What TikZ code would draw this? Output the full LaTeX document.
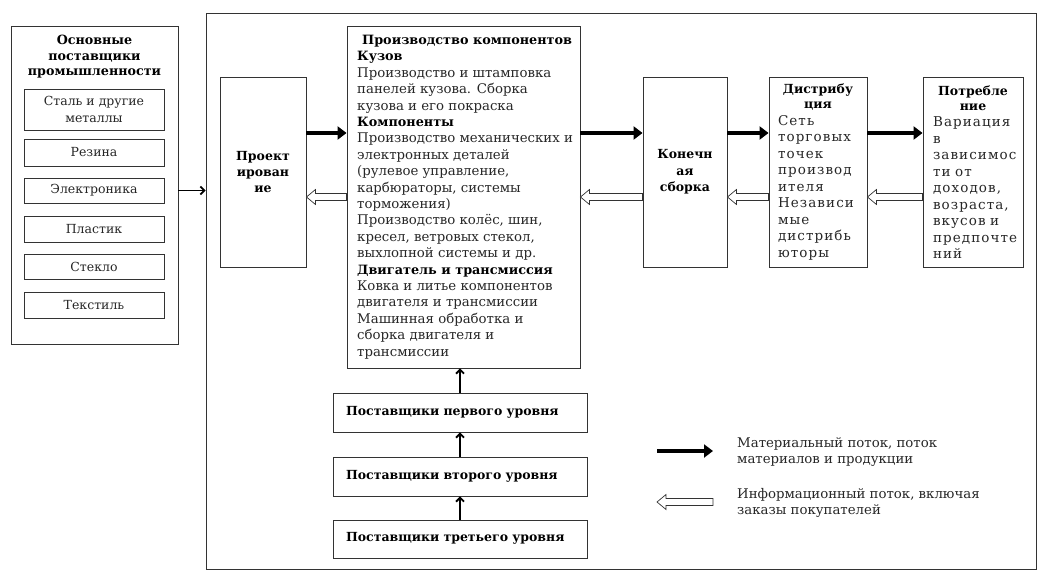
\documentclass[tikz,border=0pt]{standalone}
\usepackage{fontspec}
\setmainfont{DejaVu Serif}
\newfontfamily\widefont[LetterSpace=8]{DejaVu Serif}
\usetikzlibrary{arrows.meta,calc}
\newcommand{\fs}{\fontsize{12.5}{16.4}\selectfont}
\newcommand{\fm}{\fontsize{13.3}{16.4}\selectfont}
\newcommand{\fw}{\widefont\fontsize{13.5}{16.5}\selectfont}
\newcommand{\fb}{\fontsize{12.8}{16.4}\selectfont\bfseries\color{black}}
\newcommand{\ft}{\rmfamily\fontsize{12.5}{15}\selectfont\bfseries\color{black}}
\newcommand{\infoarrow}[2]{%
  \draw[line width=0.7pt, draw=black!80, fill=white] let \p1=(#1), \p2=(#2) in
    (\x1,\y1+3.5pt) -- (\x2+9pt,\y1+3.5pt) -- (\x2+9pt,\y1+7.5pt) -- (\x2,\y1)
    -- (\x2+9pt,\y1-7.5pt) -- (\x2+9pt,\y1-3.5pt) -- (\x1,\y1-3.5pt) -- cycle;}
\begin{document}
\begin{tikzpicture}[x=1pt,y=-1pt,
  box/.style={draw=black!80, line width=0.9pt, inner sep=0pt, align=center, font=\fs, text=black!85},
  ttl/.style={font=\fs\bfseries, text=black, inner sep=0pt, align=center},
  mat/.style={line width=4pt, -{Triangle[length=9pt,width=13pt]}},
  thin/.style={line width=1.8pt, -{Straight Barb[length=4pt,width=8pt]}}]
\useasboundingbox (0,0) rectangle (1046,577);
% outer frame
\node[box, minimum width=830, minimum height=556] (frame) at (621,291) {};
% left suppliers
\node[box, minimum width=167, minimum height=318] (sup) at (94.5,185) {};
\node[ttl, font=\fontsize{12.7}{15.5}\selectfont\bfseries] (suptitle) at (94.5,57) {Основные\\поставщики\\промышленности};
\node[box, minimum width=140, minimum height=41] (b1) at (94,109.5) {Сталь и другие\\металлы};
\node[box, minimum width=140, minimum height=27] (b2) at (94,152.5) {Резина};
\node[box, minimum width=140, minimum height=25] (b3) at (94,190.5) {Электроника};
\node[box, minimum width=140, minimum height=26] (b4) at (94,229) {Пластик};
\node[box, minimum width=140, minimum height=25] (b5) at (94,266.5) {Стекло};
\node[box, minimum width=140, minimum height=26] (b6) at (94,305) {Текстиль};
\draw[thin] (sup.east |- b3) -- (frame.west |- b3);
% main chain
\node[box, font=\fs\bfseries, text=black, minimum width=86, minimum height=190] (design) at (263,172) {Проект\\ирован\\ие};
\node[box, minimum width=233, minimum height=342] (comp) at (463.5,197) {};
\node[anchor=west, inner sep=0pt, align=left, font=\fm, text=black!85] (comptext) at (357,197) {%
\hspace*{5pt}{\fb Производство компонентов}\\
{\fb Кузов}\\
Производство и штамповка\\
панелей кузова. Сборка\\
кузова и его покраска\\
{\fb Компоненты}\\
Производство механических и\\
электронных деталей\\
(рулевое управление,\\
карбюраторы, системы\\
торможения)\\
Производство колёс, шин,\\
кресел, ветровых стекол,\\
выхлопной системы и др.\\
{\fb Двигатель и трансмиссия}\\
Ковка и литье компонентов\\
двигателя и трансмиссии\\
Машинная обработка и\\
сборка двигателя и\\
трансмиссии};
\node[box, font=\fs\bfseries, text=black, minimum width=84, minimum height=190] (asm) at (685,172) {Конечн\\ая\\сборка};
\node[box, font=\fw, minimum width=98, minimum height=190, text width=80, align=left] (dist) at (818,172) {%
{\centering\ft Дистрибу\\ция\par}%
Сеть\\торговых\\точек\\производ\\ителя\\Независи\\мые\\дистрибь\\юторы};
\node[box, font=\fw, minimum width=100, minimum height=190, text width=80, align=left] (cons) at (973,172) {%
{\centering\ft Потребле\\ние\par}%
Вариация\\в\\зависимос\\ти от\\доходов,\\возраста,\\вкусов и\\предпочте\\ний};
\coordinate (m) at (0,133);
\coordinate (i) at (0,197);
\draw[mat] (design.east |- m) -- (comp.west |- m);
\draw[mat] (comp.east |- m) -- (asm.west |- m);
\draw[mat] (asm.east |- m) -- (dist.west |- m);
\draw[mat] (dist.east |- m) -- (cons.west |- m);
\infoarrow{comp.west |- i}{design.east |- i}
\infoarrow{asm.west |- i}{comp.east |- i}
\infoarrow{dist.west |- i}{asm.east |- i}
\infoarrow{cons.west |- i}{dist.east |- i}
% tiers
\node[box, font=\fs\bfseries, text=black, minimum width=254, minimum height=39, text width=228, align=left] (s1) at (460,412.5) {\raisebox{4pt}{Поставщики первого уровня}};
\node[box, font=\fs\bfseries, text=black, minimum width=254, minimum height=39, text width=228, align=left] (s2) at (460,476.5) {\raisebox{4pt}{Поставщики второго уровня}};
\node[box, font=\fs\bfseries, text=black, minimum width=254, minimum height=38, text width=228, align=left] (s3) at (460,539) {\raisebox{4pt}{Поставщики третьего уровня}};
\draw[thin] (s1.north) -- (s1.north |- comp.south);
\draw[thin] (s2.north) -- (s1.south);
\draw[thin] (s3.north) -- (s2.south);
% legend
\coordinate (lm1) at (657,451);
\coordinate (lm2) at (713,451);
\coordinate (li1) at (713,502);
\coordinate (li2) at (657,502);
\draw[mat] (lm1) -- (lm2);
\infoarrow{li1}{li2}
\node[anchor=west, inner sep=0pt, align=left, font=\fm, text=black!85] (lt1) at (737,452) {Материальный поток, поток\\материалов и продукции};
\node[anchor=west, inner sep=0pt, align=left, font=\fm, text=black!85] (lt2) at (737,503) {Информационный поток, включая\\заказы покупателей};
\end{tikzpicture}
\end{document}
